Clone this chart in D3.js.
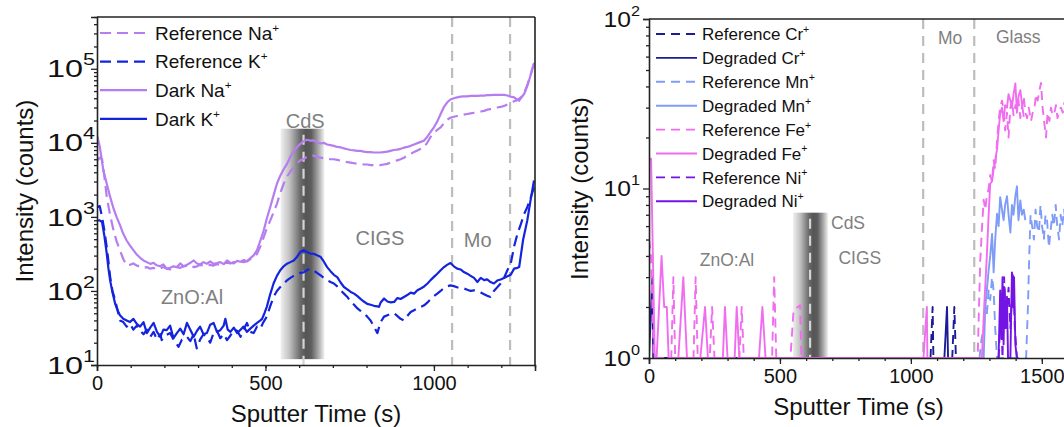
<!DOCTYPE html>
<html><head><meta charset="utf-8">
<script src="https://cdn.jsdelivr.net/npm/d3@7"></script>
<style>
body{margin:0;background:#fff;}
svg{display:block;font-family:"Liberation Sans",Arial,sans-serif;}
</style></head><body>
<script>
// ---------------- DATA (left panel: alkali profiles) ----------------
const darkNa = [[0,12600],[8,9000],[19,4200],[29,2800],[39,1860],[49,1300],[58,1000],[68,780],[78,590],[88,480],[98,410],[108,355],[118,310],[128,280],[138,258],[148,245],[158,232],[168,240],[177,222],[187,215],[197,228],[207,200],[217,205],[227,215],[237,210],[247,235],[257,215],[267,225],[277,240],[287,258],[297,235],[306,228],[316,245],[326,233],[336,250],[346,232],[356,238],[366,245],[376,230],[386,258],[396,240],[406,235],[416,255],[426,248],[436,262],[446,250],[456,280],[465,303],[475,355],[485,480],[495,660],[504,950],[514,1350],[524,1950],[534,2800],[544,3600],[554,4400],[564,5200],[574,6500],[584,7800],[594,8800],[603,9600],[613,10500],[623,11000],[633,10700],[643,10800],[653,10200],[663,9800],[673,10000],[683,9500],[693,9300],[703,9100],[713,8800],[723,8700],[733,8400],[743,8200],[753,8000],[763,7900],[773,7800],[782,7800],[792,7600],[802,7500],[812,7500],[822,7400],[832,7400],[841,7400],[851,7500],[861,7600],[871,7800],[881,8000],[891,8100],[901,8300],[911,8600],[921,8800],[931,9100],[941,9500],[951,9900],[961,10300],[970,10700],[980,12000],[990,14000],[1000,16200],[1010,19500],[1020,24500],[1029,30000],[1039,35000],[1049,38500],[1059,40000],[1069,41000],[1079,42000],[1089,42500],[1099,42500],[1109,43000],[1119,43000],[1129,43000],[1139,43500],[1149,43500],[1158,44000],[1168,44000],[1178,44500],[1188,44500],[1198,44500],[1208,44500],[1218,43500],[1228,42000],[1238,41000],[1248,38000],[1253,37000],[1258,40000],[1268,46000],[1278,60000],[1288,85000],[1297,120000]];
const refNa = [[0,5700],[8,6300],[15,6000],[22,3500],[29,1860],[39,1050],[49,660],[58,470],[68,355],[78,270],[88,222],[98,225],[108,235],[118,220],[128,215],[138,205],[148,210],[158,200],[168,205],[177,195],[187,200],[197,210],[207,200],[217,195],[227,205],[237,210],[247,205],[257,215],[267,220],[277,225],[287,210],[297,215],[306,225],[316,220],[326,215],[336,225],[346,220],[356,230],[366,225],[376,235],[386,240],[396,235],[406,245],[416,240],[426,250],[436,245],[446,255],[456,270],[465,290],[475,317],[485,400],[495,535],[504,700],[514,890],[524,1150],[534,1500],[544,2100],[554,2800],[564,3500],[574,4100],[584,4700],[594,5300],[603,5800],[613,6000],[623,6500],[633,6700],[643,6700],[653,6500],[663,6300],[673,6200],[683,6100],[693,6000],[703,6000],[713,5900],[723,5700],[733,5600],[743,5500],[753,5400],[763,5300],[773,5200],[782,5200],[792,5100],[802,5100],[812,5000],[822,5000],[832,5000],[841,5000],[851,5100],[861,5200],[871,5400],[881,5600],[891,5800],[901,6000],[911,6300],[921,6700],[931,7100],[941,7500],[951,7900],[961,8300],[970,8700],[980,10000],[990,12000],[1000,13500],[1010,15000],[1020,16200],[1030,18500],[1039,20500],[1049,21800],[1059,22500],[1069,23000],[1079,23500],[1089,24000],[1099,24500],[1109,25000],[1119,25500],[1129,26000],[1139,26500],[1149,27000],[1158,28000],[1168,28500],[1178,29000],[1188,30000],[1198,30500],[1208,31500],[1218,33000],[1228,35000],[1238,36500],[1248,38000],[1258,41000],[1268,47000],[1278,62000],[1288,86000],[1297,118000]];
const darkK = [[0,890],[8,900],[15,850],[22,550],[29,318],[34,200],[39,139],[46,95],[54,67],[61,55],[68,47],[78,42],[88,40],[98,38],[108,42],[118,36],[128,33],[138,38],[148,27],[158,32],[168,37],[178,28],[188,24],[197,30],[207,29.5],[217,34],[227,23],[237,27],[247,31],[257,26],[267,37],[277,30],[287,24],[297,29],[306,33],[316,26],[326,27],[336,35],[346,37],[356,28],[366,29.5],[376,34],[381,42],[388,30],[396,28],[406,32],[416,27],[426,30],[435,33],[445,28],[455,31],[465,34],[475,37],[485,40],[490,42],[497,50],[504,61],[514,90],[524,126],[534,160],[544,190],[554,215],[564,233],[574,245],[584,258],[594,290],[603,335],[613,355],[623,335],[633,320],[643,318],[653,303],[663,290],[673,250],[683,210],[693,185],[703,165],[713,154],[723,130],[733,113],[743,105],[753,97],[763,92],[773,85],[782,78],[792,72],[802,67],[812,65],[822,63],[832,62],[837,61],[842,70],[852,79],[862,72],[872,70],[882,71],[891,80],[901,78],[911,83],[921,88],[931,95],[941,92],[951,102],[961,108],[971,115],[981,126],[990,140],[1000,155],[1010,171],[1020,190],[1030,210],[1039,225],[1049,238],[1059,215],[1069,200],[1079,195],[1089,180],[1099,171],[1109,160],[1119,150],[1129,132],[1139,150],[1149,140],[1158,143],[1168,132],[1178,126],[1188,138],[1198,143],[1208,150],[1218,158],[1228,165],[1238,200],[1248,205],[1253,210],[1265,500],[1277,890],[1287,1700],[1297,3100]];
const refK = [[0,1350],[8,1400],[15,1000],[22,650],[29,390],[34,250],[39,154],[46,100],[54,75],[61,55],[68,40],[78,38],[88,33],[98,36],[108,30],[118,34],[128,29],[138,26],[148,30],[158,24],[168,28],[178,22],[188,26],[192,21.7],[202,25],[217,27],[227,22],[242,17.6],[252,22],[267,24],[277,21],[287,26],[296,16.8],[306,22],[316,26],[326,24],[336,20],[346,27],[356,29],[366,23],[376,26],[386,21.7],[396,25],[406,30],[416,29],[426,24],[435,30],[445,37],[455,28],[465,27],[475,33],[485,31],[494,38],[504,45],[514,62],[524,83],[534,100],[544,113],[554,125],[564,139],[574,150],[584,160],[594,171],[603,175],[613,178],[623,190],[633,200],[643,190],[653,175],[663,163],[673,150],[683,140],[693,132],[703,126],[713,115],[723,102],[733,92],[743,83],[753,72],[763,65],[773,58],[782,54],[792,50],[802,45],[812,40],[822,33],[832,27],[842,38],[852,45],[862,47],[872,49],[882,50],[891,46],[901,42],[911,40],[921,46],[931,52],[941,55],[951,58],[961,61],[971,64],[981,70],[990,77],[1000,85],[1010,92],[1020,100],[1030,110],[1039,115],[1049,119],[1059,116],[1069,112],[1079,110],[1089,108],[1099,104],[1109,100],[1119,102],[1129,100],[1139,95],[1149,90],[1158,86],[1168,83],[1178,100],[1188,112],[1198,126],[1208,150],[1218,190],[1228,233],[1238,400],[1248,590],[1258,800],[1268,1100],[1277,1350],[1287,1800],[1297,2500]];

// ---------------- DATA (right panel: transition metals) ----------------
const refCr = [[1075,1],[1083,2],[1086,1],[1158,1],[1166,2],[1172,1]];
const degCr = [[0,1],[13,3],[16,1],[1128,1],[1138,2],[1142,1]];
const refMn = [[1262,1],[1270,1.3],[1278,1.5],[1284,2],[1290,1.8],[1297,2.5],[1303,2.2],[1310,3],[1316,2.5],[1322,1.5],[1329,1],[1440,1],[1447,2],[1452,4],[1457,7],[1463,6],[1470,5],[1476,7.5],[1482,6],[1489,5.5],[1495,8],[1501,6],[1508,5],[1514,7],[1520,6.5],[1527,4.5],[1533,5.5],[1540,7],[1546,6],[1553,8],[1559,6],[1566,5],[1572,7],[1578,6],[1585,7.5],[1592,6],[1600,6.5]];
const degMn = [[1270,1],[1278,1],[1284,2],[1290,2.5],[1297,3.3],[1303,4],[1310,5.4],[1316,3.2],[1322,5],[1329,7.1],[1335,6],[1341,8.9],[1348,7.5],[1354,6.5],[1360,8],[1367,9],[1373,7],[1380,5.5],[1386,8],[1392,7],[1399,9],[1405,10.3],[1411,6.5],[1418,8.5],[1424,7],[1431,7.5],[1437,6.5]];
const refFe = [[0,5],[8,4],[18,1],[85,1],[93,3],[100,1],[170,1],[178,3],[186,1],[232,1],[241,2],[250,1],[345,1],[354,2],[362,1],[470,1],[478,3],[486,1],[540,1],[552,1.9],[577,2.05],[582,1],[1255,1],[1265,3.8],[1272,6],[1278,8.6],[1284,7.5],[1290,9],[1297,10],[1303,12],[1310,11],[1316,14.7],[1322,13],[1329,19],[1335,25],[1341,30],[1348,33],[1354,29],[1360,22],[1367,28],[1373,20],[1380,30],[1386,33],[1392,27],[1399,31],[1405,29],[1411,33],[1418,26],[1424,30],[1431,35],[1437,28],[1444,26],[1450,30],[1459,25],[1465,28],[1472,30],[1478,36],[1484,33],[1491,38],[1497,42],[1503,30],[1510,24],[1516,20],[1522,28],[1529,25],[1535,30],[1541,27],[1548,28],[1554,31],[1560,26],[1567,29],[1573,30],[1580,28],[1586,32],[1592,30],[1600,29]];
const degFe = [[0,15],[8,15],[22,1],[29,1],[48,4],[58,2],[68,2],[75,1],[112,1],[131,3],[145,1],[196,1],[214,2],[225,1],[282,1],[290,2],[300,1],[327,1],[335,2],[345,1],[420,1],[433,2],[445,1],[1048,1],[1061,2],[1063,1],[1262,1],[1271,1],[1280,2],[1290,4],[1297,7],[1303,10.7],[1310,11],[1316,13],[1322,14.7],[1329,17],[1335,22],[1341,27.7],[1348,30],[1354,25],[1360,31],[1367,30],[1373,36],[1380,33],[1386,30],[1392,36],[1399,41.7],[1405,28],[1411,35],[1418,38],[1424,32],[1431,26.5]];
const refNi = [[1335,1],[1344,2],[1350,1],[1356,3],[1362,1.5],[1373,2.6],[1380,1.5],[1390,3.2],[1397,1.5],[1405,1]];
const degNi = [[1335,1],[1341,2.5],[1345,1.3],[1350,3],[1354,1.2],[1358,2.6],[1362,1.5],[1367,2.3],[1371,1],[1380,1],[1386,3.2],[1390,2],[1394,3],[1399,1.2],[1405,1]];

// layer boundaries / labels (data coordinates)
const leftBand = {from:545, to:675, top:15500, bottom:12, centre:613};
const leftVLines = [1054, 1226];
const leftLabels = [["CdS",618,20000],["ZnO:Al",282,82],["CIGS",840,515],["Mo",1130,480]];
const rightBand = {from:550, to:684, top:7.2, bottom:1, centre:615};
const rightVLines = [1047, 1242];
const rightLabels = [["CdS",760,6.3],["CIGS",805,3.9],["ZnO:Al",298,3.8],["Mo",1150,77],["Glass",1410,78]];

const leftLegend = [["Reference Na","+"],["Reference K","+"],["Dark Na","+"],["Dark K","+"]];
const rightLegend = [["Reference Cr","+"],["Degraded Cr","+"],["Reference Mn","+"],["Degraded Mn","+"],["Reference Fe","+"],["Degraded Fe","+"],["Reference Ni","+"],["Degraded Ni","+"]];

const xTicksLeft = [0,500,1000];
const xTicksRight = [0,500,1000,1500];
const yExpLeft = [1,2,3,4,5];
const yExpRight = [0,1,2];

// ---------------- DRAWING ----------------
const W=1064,H=427;
const svg=d3.select("body").append("svg").attr("width",W).attr("height",H);
const defs=svg.append("defs");
const grad=defs.append("linearGradient").attr("id","bandGrad").attr("x1","0").attr("x2","1").attr("y1","0").attr("y2","0");
[[0,"#f0f0f0"],[0.2,"#c2c2c2"],[0.45,"#6a6a6a"],[0.58,"#555555"],[0.7,"#5e5e5e"],[0.86,"#a8a8a8"],[1,"#f2f2f2"]]
  .forEach(s=>grad.append("stop").attr("offset",s[0]).attr("stop-color",s[1]));

const NA="#b57df0", KC="#1424de", CR="#1c1c96", MN="#7f9cf6", FE="#f06df0", NI="#7414e4";

function panel(cfg){
  const x=d3.scaleLinear().domain(cfg.xDomain).range([cfg.left,cfg.right]);
  const y=d3.scaleLog().domain(cfg.yDomain).range([cfg.bottom,cfg.top]);
  const g=svg.append("g");
  const cid="clip"+cfg.id;
  defs.append("clipPath").attr("id",cid).append("rect")
    .attr("x",cfg.left).attr("y",cfg.top).attr("width",cfg.right-cfg.left).attr("height",cfg.bottom-cfg.top);
  const pg=g.append("g").attr("clip-path",`url(#${cid})`);
  // band
  const b=cfg.band;
  pg.append("rect").attr("x",x(b.from)).attr("width",x(b.to)-x(b.from))
    .attr("y",y(b.top)).attr("height",y(b.bottom)-y(b.top)).attr("fill","url(#bandGrad)");
  pg.append("line").attr("x1",x(b.centre)).attr("x2",x(b.centre)).attr("y1",y(b.top)+6).attr("y2",cfg.bottom)
    .attr("stroke","#d4d4d4").attr("stroke-width",2.2).attr("stroke-dasharray","10,7");
  cfg.vlines.forEach(t=>{
    pg.append("line").attr("x1",x(t)).attr("x2",x(t)).attr("y1",cfg.top).attr("y2",cfg.bottom)
      .attr("stroke","#bdbdbd").attr("stroke-width",2.2).attr("stroke-dasharray","10,7");
  });
  // labels
  cfg.labels.forEach(l=>{
    pg.append("text").attr("x",x(l[1])).attr("y",y(l[2])).attr("text-anchor","middle")
      .attr("dominant-baseline","central").attr("fill","#7f7f7f").attr("font-size",cfg.labelSize).text(l[0]);
  });
  // series
  const line=d3.line().x(d=>x(d[0])).y(d=>y(Math.max(d[1],cfg.yDomain[0])));
  cfg.series.forEach(s=>{
    pg.append("path").datum(s.data).attr("d",line).attr("fill","none").attr("stroke",s.color)
      .attr("stroke-width",cfg.lw).attr("stroke-linejoin","round")
      .attr("stroke-dasharray",s.dash?cfg.dash:null);
  });
  // axes
  const ax=g.append("g").attr("color","#222");
  const xa=ax.append("g").attr("transform",`translate(0,${cfg.bottom})`)
    .call(d3.axisBottom(x).tickValues(d3.range(cfg.xDomain[0],cfg.xDomain[1]+1,100)).tickSize(3).tickFormat(""));
  xa.select(".domain").remove();
  const xm=ax.append("g").attr("transform",`translate(0,${cfg.bottom})`)
    .call(d3.axisBottom(x).tickValues(cfg.xTicks).tickSize(6).tickPadding(5).tickFormat(d3.format("d")));
  xm.select(".domain").attr("stroke-width",1.6);
  xm.selectAll(".tick text").attr("font-size",20).attr("fill","#111").attr("font-family","Liberation Sans, Arial, sans-serif");
  // y axis
  const minors=[];
  for(let e=cfg.yExp[0];e<cfg.yExp[cfg.yExp.length-1]+1;e++) for(let m=2;m<10;m++){const v=m*Math.pow(10,e); if(v<=cfg.yDomain[1]) minors.push(v);}
  const ya=ax.append("g").attr("transform",`translate(${cfg.left},0)`)
    .call(d3.axisLeft(y).tickValues(minors).tickSize(3).tickFormat(""));
  ya.select(".domain").remove();
  const ym=ax.append("g").attr("transform",`translate(${cfg.left},0)`)
    .call(d3.axisLeft(y).tickValues(cfg.yExp.map(e=>Math.pow(10,e))).tickSize(6).tickFormat(""));
  ym.select(".domain").attr("stroke-width",1.6);
  ax.selectAll(".tick line").attr("stroke-width",1.3);
  cfg.yExp.forEach(e=>{
    const t=g.append("text")
      .attr("transform",`translate(${cfg.left-cfg.yLabGap},${y(Math.pow(10,e))}) scale(${cfg.yLabStretch},1)`)
      .attr("dy","0.36em").attr("text-anchor","end").attr("font-size",cfg.yLabSize).attr("fill","#111");
    t.append("tspan").text("10");
    t.append("tspan").attr("font-size",cfg.yLabSize*0.66).attr("dy",-cfg.yLabSize*0.5).text(e);
  });
  // box
  g.append("line").attr("x1",cfg.left).attr("x2",cfg.right).attr("y1",cfg.top).attr("y2",cfg.top).attr("stroke","#222").attr("stroke-width",1.6);
  g.append("line").attr("x1",cfg.right).attr("x2",cfg.right).attr("y1",cfg.top).attr("y2",cfg.bottom).attr("stroke","#222").attr("stroke-width",1.6);
  // titles
  g.append("text").attr("x",(cfg.left+cfg.right)/2).attr("y",cfg.xTitleY).attr("text-anchor","middle")
    .attr("font-size",24).attr("fill","#111").text("Sputter Time (s)");
  g.append("text").attr("transform",`translate(${cfg.yTitleX},${(cfg.top+cfg.bottom)/2}) rotate(-90)`)
    .attr("text-anchor","middle").attr("font-size",24).attr("fill","#111").text("Intensity (counts)");
  // legend
  const lg=cfg.legend;
  cfg.series.forEach((s,i)=>{
    const yy=lg.y0+i*lg.dy;
    g.append("line").attr("x1",lg.x0).attr("x2",lg.x1).attr("y1",yy).attr("y2",yy).attr("stroke",s.color)
      .attr("stroke-width",cfg.lw).attr("stroke-dasharray",s.dash?cfg.dash:null);
    const t=g.append("text").attr("x",lg.tx).attr("y",yy).attr("dy","0.36em").attr("font-size",lg.size).attr("fill","#111");
    t.append("tspan").text(cfg.legendText[i][0]);
    t.append("tspan").attr("font-size",lg.size*0.62).attr("dy",-lg.size*0.42).text(cfg.legendText[i][1]);
  });
}

panel({id:"L",left:97,right:535,top:17,bottom:365,xDomain:[0,1300],yDomain:[10,5e5],
  xTicks:xTicksLeft,yExp:yExpLeft,yLabSize:24,yLabGap:2,yLabStretch:1.35,labelSize:20,lw:2.2,dash:"11,6",
  band:leftBand,vlines:leftVLines,labels:leftLabels,
  series:[{data:refNa,color:NA,dash:true},{data:refK,color:KC,dash:true},{data:darkNa,color:NA,dash:false},{data:darkK,color:KC,dash:false}],
  legendText:leftLegend,legend:{x0:100,x1:147,tx:155,y0:33,dy:28.6,size:19},
  xTitleY:422,yTitleX:33});

panel({id:"R",left:649,right:1068,top:19,bottom:358,xDomain:[0,1600],yDomain:[1,100],
  xTicks:xTicksRight,yExp:yExpRight,yLabSize:22,yLabGap:9,yLabStretch:1.12,labelSize:17.5,lw:1.9,dash:"9,6",
  band:rightBand,vlines:rightVLines,labels:rightLabels,
  series:[{data:refCr,color:CR,dash:true},{data:degCr,color:CR,dash:false},{data:refMn,color:MN,dash:true},{data:degMn,color:MN,dash:false},
          {data:refFe,color:FE,dash:true},{data:degFe,color:FE,dash:false},{data:refNi,color:NI,dash:true},{data:degNi,color:NI,dash:false}],
  legendText:rightLegend,legend:{x0:656,x1:697,tx:702,y0:34,dy:23.9,size:17},
  xTitleY:415,yTitleX:588});
</script>
</body></html>
